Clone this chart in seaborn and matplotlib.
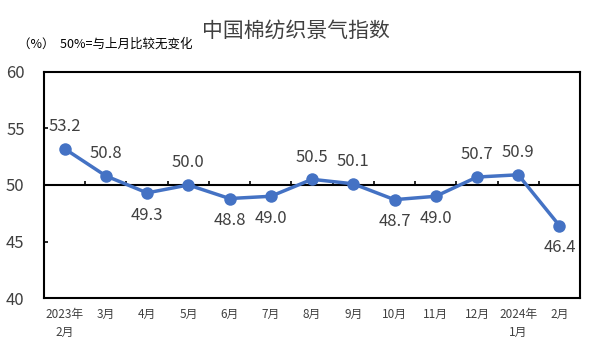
import numpy as np
import pandas as pd
import matplotlib
matplotlib.use("Agg")
import matplotlib.pyplot as plt
import seaborn as sns

# 数据
months = ["2023年\n2月", "3月", "4月", "5月", "6月", "7月", "8月", "9月",
          "10月", "11月", "12月", "2024年\n1月", "2月"]
index_values = [53.2, 50.8, 49.3, 50.0, 48.8, 49.0, 50.5, 50.1,
                48.7, 49.0, 50.7, 50.9, 46.4]
label_below = [False, False, True, False, True, True, False, False,
               True, True, False, False, True]

sns.set_theme(style="white")
plt.rcParams["font.family"] = ["Noto Sans CJK SC", "DejaVu Sans"]

df = pd.DataFrame({"pos": np.arange(len(months)), "val": index_values})

fig = plt.figure(figsize=(5.91, 3.54), dpi=100)
ax = fig.add_axes([0.0745, 0.158, 0.907, 0.639])

line_color = "#4472C4"
sns.lineplot(data=df, x="pos", y="val", ax=ax, color=line_color, lw=2.5,
             marker="o", markersize=9, markeredgewidth=0, zorder=4)

# 50 基准线及刻度
ax.axhline(50, color="black", lw=1.5, zorder=3)
ax.vlines(np.arange(len(months) - 1) + 0.5, 50, 50.35, color="black", lw=1.2, zorder=3)

# 数据标签
for x, v, below in zip(df["pos"], index_values, label_below):
    ax.annotate(f"{v:.1f}", (x, v), xytext=(0, -16 if below else 16),
                textcoords="offset points", ha="center", va="center",
                fontsize=12, color="#404040", zorder=5)

ax.set_xlim(-0.5, len(months) - 0.5)
ax.set_ylim(40, 60)
ax.set_yticks([40, 45, 50, 55, 60])
ax.set_xticks(np.arange(len(months)))
ax.set_xticklabels(months, fontsize=8.5, color="#404040", linespacing=1.5)
ax.tick_params(axis="y", labelsize=12, labelcolor="#404040", direction="in",
               length=3, width=1.2, color="black", left=True, pad=14)
ax.tick_params(axis="x", length=0, pad=7)
ax.set_xlabel("")
ax.set_ylabel("")
for s in ax.spines.values():
    s.set_color("black")
    s.set_linewidth(1.5)

fig.text(0.5, 0.912, "中国棉纺织景气指数", ha="center", va="center",
         fontsize=15, color="#404040")
fig.text(0.03, 0.875, "（%）  50%=与上月比较无变化", ha="left", va="center",
         fontsize=9, color="black")

fig.savefig("out.png", dpi=100)
